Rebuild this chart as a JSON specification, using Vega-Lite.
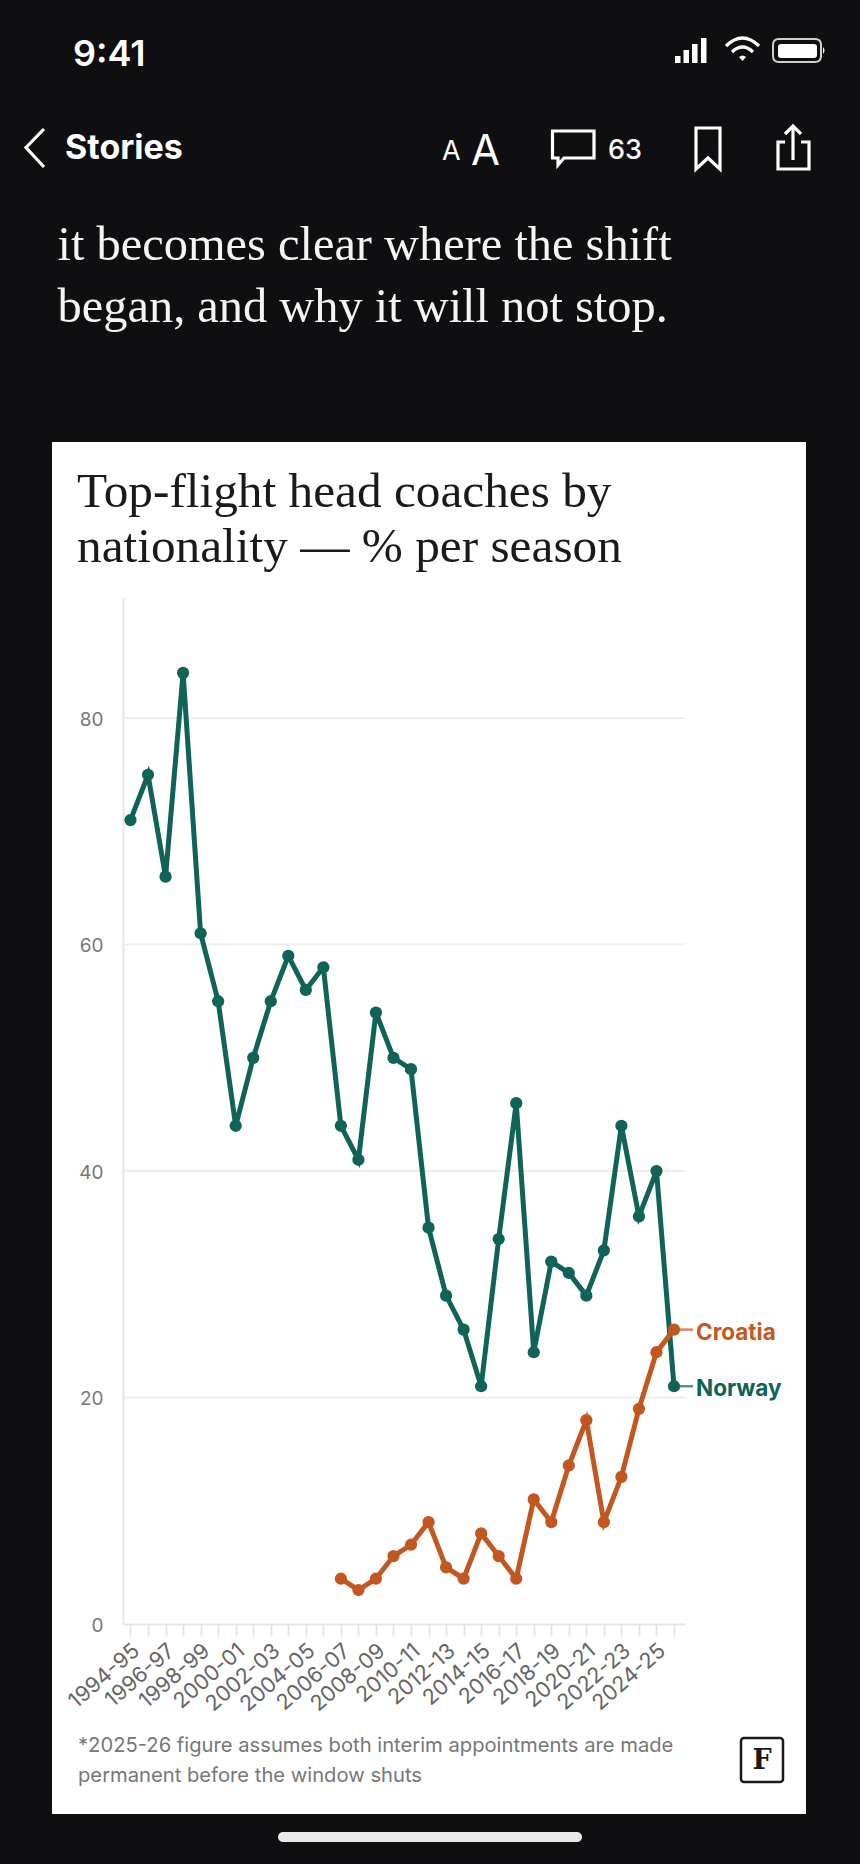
{"$schema":"https://vega.github.io/schema/vega-lite/v6.json","autosize":{"type":"none"},"width":754,"height":1372,"padding":{"left":52,"top":442,"right":54,"bottom":50},"background":"#0f0f12","view":{"fill":"#ffffff","stroke":null},"datasets":{"coaches":[{"season":"1994-95","country":"Norway","share":71},{"season":"1995-96","country":"Norway","share":75},{"season":"1996-97","country":"Norway","share":66},{"season":"1997-98","country":"Norway","share":84},{"season":"1998-99","country":"Norway","share":61},{"season":"1999-00","country":"Norway","share":55},{"season":"2000-01","country":"Norway","share":44},{"season":"2001-02","country":"Norway","share":50},{"season":"2002-03","country":"Norway","share":55},{"season":"2003-04","country":"Norway","share":59},{"season":"2004-05","country":"Norway","share":56},{"season":"2005-06","country":"Norway","share":58},{"season":"2006-07","country":"Norway","share":44},{"season":"2007-08","country":"Norway","share":41},{"season":"2008-09","country":"Norway","share":54},{"season":"2009-10","country":"Norway","share":50},{"season":"2010-11","country":"Norway","share":49},{"season":"2011-12","country":"Norway","share":35},{"season":"2012-13","country":"Norway","share":29},{"season":"2013-14","country":"Norway","share":26},{"season":"2014-15","country":"Norway","share":21},{"season":"2015-16","country":"Norway","share":34},{"season":"2016-17","country":"Norway","share":46},{"season":"2017-18","country":"Norway","share":24},{"season":"2018-19","country":"Norway","share":32},{"season":"2019-20","country":"Norway","share":31},{"season":"2020-21","country":"Norway","share":29},{"season":"2021-22","country":"Norway","share":33},{"season":"2022-23","country":"Norway","share":44},{"season":"2023-24","country":"Norway","share":36},{"season":"2024-25","country":"Norway","share":40},{"season":"2025-26","country":"Norway","share":21},{"season":"2006-07","country":"Croatia","share":4},{"season":"2007-08","country":"Croatia","share":3},{"season":"2008-09","country":"Croatia","share":4},{"season":"2009-10","country":"Croatia","share":6},{"season":"2010-11","country":"Croatia","share":7},{"season":"2011-12","country":"Croatia","share":9},{"season":"2012-13","country":"Croatia","share":5},{"season":"2013-14","country":"Croatia","share":4},{"season":"2014-15","country":"Croatia","share":8},{"season":"2015-16","country":"Croatia","share":6},{"season":"2016-17","country":"Croatia","share":4},{"season":"2017-18","country":"Croatia","share":11},{"season":"2018-19","country":"Croatia","share":9},{"season":"2019-20","country":"Croatia","share":14},{"season":"2020-21","country":"Croatia","share":18},{"season":"2021-22","country":"Croatia","share":9},{"season":"2022-23","country":"Croatia","share":13},{"season":"2023-24","country":"Croatia","share":19},{"season":"2024-25","country":"Croatia","share":24},{"season":"2025-26","country":"Croatia","share":26}]},"layer":[{"data":{"values":[{"v":20},{"v":40},{"v":60},{"v":80}]},"mark":{"type":"rule","stroke":"#eeeeee","strokeWidth":2},"encoding":{"y":{"field":"v","type":"quantitative","title":null,"scale":{"domain":[0,90.7],"range":[1182,155],"nice":false},"axis":{"orient":"left","offset":-71,"values":[0,20,40,60,80],"domainColor":"#e6e6e6","domainWidth":2,"ticks":false,"labelPadding":20,"labelOffset":1,"labelFont":"Inter","labelFontSize":19,"labelColor":"#777777","grid":false}},"x":{"value":71},"x2":{"value":633}}},{"data":{"name":"coaches"},"encoding":{"x":{"field":"season","type":"ordinal","title":null,"scale":{"type":"point","range":[71,633],"padding":0.527,"align":0.405},"axis":{"orient":"bottom","offset":-190,"domainColor":"#e6e6e6","domainWidth":2,"tickColor":"#e6e6e6","tickWidth":2,"tickSize":12,"labelAngle":-41,"labelAlign":"right","labelBaseline":"middle","labelPadding":12,"labelOffset":6,"labelFont":"Inter","labelFontSize":21.5,"labelColor":"#666666","labelOverlap":false,"labelExpr":"parseInt(substring(datum.label,0,4))%2==0?datum.label:''","grid":false}},"y":{"field":"share","type":"quantitative","title":null,"scale":{"domain":[0,90.7],"range":[1182,155],"nice":false},"axis":{"orient":"left","offset":-71,"values":[0,20,40,60,80],"domainColor":"#e6e6e6","domainWidth":2,"ticks":false,"labelPadding":20,"labelOffset":1,"labelFont":"Inter","labelFontSize":19,"labelColor":"#777777","grid":false}},"color":{"field":"country","type":"nominal","legend":null,"scale":{"domain":["Norway","Croatia"],"range":["#0f6357","#c2571f"]}}},"layer":[{"mark":{"type":"line","strokeWidth":5}},{"mark":{"type":"point","filled":true,"opacity":1,"size":150}},{"transform":[{"filter":"datum.season=='2025-26'"}],"mark":{"type":"tick","orient":"horizontal","size":18,"thickness":2.5,"xOffset":10}},{"transform":[{"filter":"datum.season=='2025-26'"}],"mark":{"type":"text","align":"left","baseline":"middle","dx":22,"dy":3,"font":"Inter","fontWeight":700,"fontSize":22.5},"encoding":{"text":{"field":"country"}}}]},{"data":{"values":[{"t":"Top-flight head coaches by\nnationality — % per season"}]},"mark":{"type":"text","x":25,"y":65,"align":"left","baseline":"alphabetic","lineBreak":"\n","lineHeight":55,"font":"Liberation Serif","fontSize":49.3,"fill":"#1a1a1a"},"encoding":{"text":{"field":"t"}}},{"data":{"values":[{"t":"*2025-26 figure assumes both interim appointments are made\npermanent before the window shuts"}]},"mark":{"type":"text","x":26,"y":1310,"align":"left","baseline":"alphabetic","lineBreak":"\n","lineHeight":30,"font":"Inter","fontSize":20.2,"fill":"#777777"},"encoding":{"text":{"field":"t"}}},{"data":{"values":[{"t":"F"}]},"layer":[{"mark":{"type":"rect","x":689,"x2":731,"y":1296,"y2":1340,"fill":"#ffffff","stroke":"#1a1a1a","strokeWidth":2.5,"cornerRadius":3}},{"mark":{"type":"text","x":710,"y":1319,"align":"center","baseline":"middle","font":"DejaVu Serif","fontWeight":700,"fontSize":27,"fill":"#1a1a1a"},"encoding":{"text":{"field":"t"}}}]},{"data":{"values":[{"t":"it becomes clear where the shift\nbegan, and why it will not stop."}]},"mark":{"type":"text","x":5.6,"y":-182,"align":"left","baseline":"alphabetic","lineBreak":"\n","lineHeight":61.5,"font":"Liberation Serif","fontSize":48.4,"fill":"#f5f5f5"},"encoding":{"text":{"field":"t"}}},{"data":{"values":[{"t":"9:41"}]},"mark":{"type":"text","x":21,"y":-376,"align":"left","baseline":"alphabetic","font":"Inter","fontWeight":600,"fontSize":36,"fill":"#ffffff"},"encoding":{"text":{"field":"t"}}},{"data":{"values":[{"t":"Stories"}]},"mark":{"type":"text","x":13,"y":-283,"align":"left","baseline":"alphabetic","font":"Inter","fontWeight":700,"fontSize":34,"fill":"#ffffff"},"encoding":{"text":{"field":"t"}}},{"data":{"values":[{"t":"A"}]},"mark":{"type":"text","x":390,"y":-282,"align":"left","baseline":"alphabetic","font":"Inter","fontWeight":400,"fontSize":27,"fill":"#ffffff"},"encoding":{"text":{"field":"t"}}},{"data":{"values":[{"t":"A"}]},"mark":{"type":"text","x":419,"y":-277,"align":"left","baseline":"alphabetic","font":"Inter","fontWeight":400,"fontSize":42,"fill":"#ffffff"},"encoding":{"text":{"field":"t"}}},{"data":{"values":[{"t":"63"}]},"mark":{"type":"text","x":556,"y":-283,"align":"left","baseline":"alphabetic","font":"Inter","fontWeight":500,"fontSize":27,"fill":"#ffffff"},"encoding":{"text":{"field":"t"}}},{"data":{"values":[{"t":"outline icons"}]},"mark":{"type":"point","x":-52,"y":-442,"size":4,"filled":false,"opacity":1,"stroke":"#ffffff","strokeWidth":3.2,"shape":"M44 129 L26 147.5 L44 167 M552.5 131 H594 V158 H564 L558 165 V158 H552.5 Z M696 128 H720 V169 L708 158 L696 169 Z M785 142 H778 V169 H809 V142 H801 M793 160 V127 M785 134 L793 126 L801 134 M726 46 Q742.5 30 759 46 M732 52 Q742.5 42 753 52"}},{"data":{"values":[{"t":"solid icons"}]},"mark":{"type":"point","x":-52,"y":-442,"size":4,"filled":true,"opacity":1,"fill":"#ffffff","strokeWidth":0,"shape":"M675 56 H680.5 V63 H675 Z M683.5 50 H689 V63 H683.5 Z M692 44 H697.5 V63 H692 Z M701 38 H706.5 V63 H701 Z M781 44 H814 Q817 44 817 47 V55 Q817 58 814 58 H781 Q778 58 778 55 V47 Q778 44 781 44 Z M823 47 Q826 50.5 823 54 Z M739 57 L742.5 61 L746 57 Q742.5 54 739 57 Z"}},{"data":{"values":[{"t":"battery"}]},"mark":{"type":"point","x":-52,"y":-442,"size":4,"filled":false,"opacity":1,"stroke":"#cfcfcf","strokeWidth":2,"shape":"M779 39 H815 Q821 39 821 45 V56 Q821 62 815 62 H779 Q773 62 773 56 V45 Q773 39 779 39 Z"}},{"data":{"values":[{"t":"home"}]},"mark":{"type":"rect","x":226,"x2":530,"y":1390,"y2":1400,"fill":"#e8e8e8","cornerRadius":5}}],"resolve":{"scale":{"color":"independent"}}}
